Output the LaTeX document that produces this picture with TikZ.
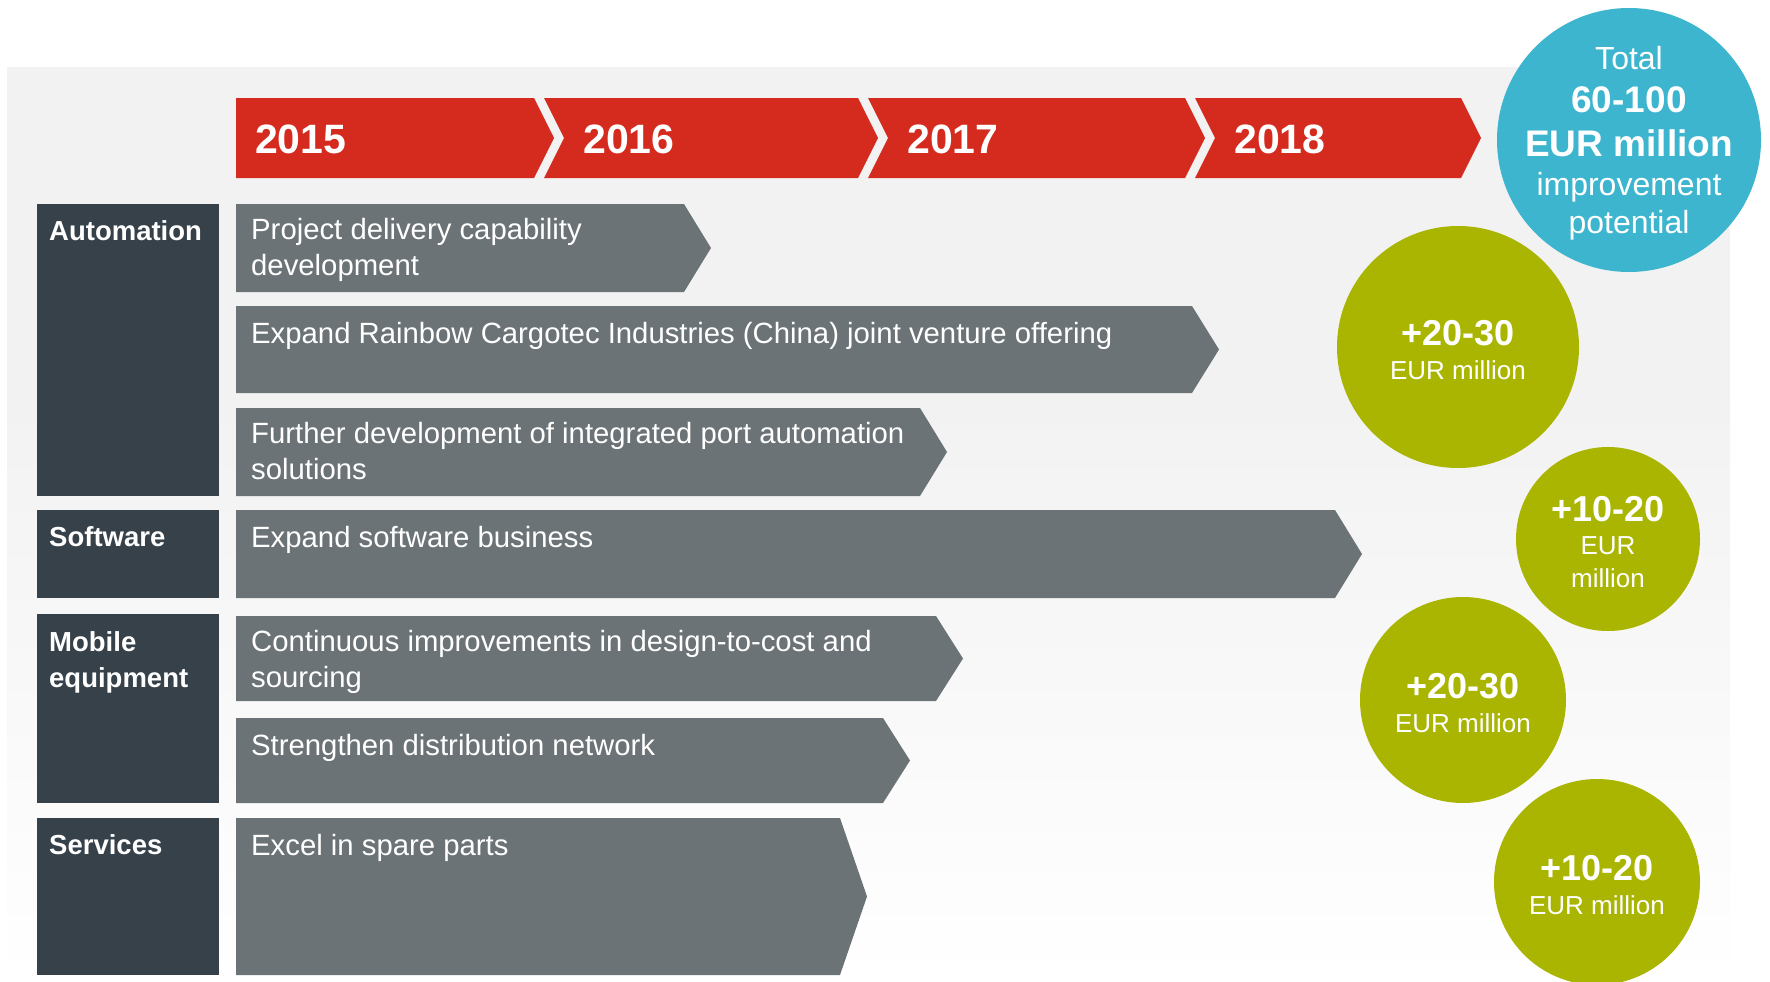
\documentclass[tikz,border=0pt]{standalone}
\usepackage{fontspec}
\setmainfont{Liberation Sans}
\usepackage{xcolor}
\usepackage{tikz}

\definecolor{yearred}{HTML}{D52B1E}
\definecolor{catdark}{HTML}{37414A}
\definecolor{bargray}{HTML}{6C7376}
\definecolor{totalblue}{HTML}{3DB5CE}
\definecolor{gainolive}{HTML}{A9B500}
\definecolor{bggray}{HTML}{F2F2F2}

\begin{document}
\begin{tikzpicture}[x=1pt, y=-1pt,
		yeartext/.style={anchor=base west, inner sep=0, text=white, font=\fontsize{41}{49}\selectfont\bfseries},
		cattext/.style={anchor=north west, inner sep=0, text=white, align=left, font=\fontsize{27.5}{36}\selectfont\bfseries,
			execute at begin node={\rule{0pt}{22pt}}},
		bartext/.style={anchor=north west, inner sep=0, text=white, align=left, font=\fontsize{29.3}{36}\selectfont,
			execute at begin node={\rule{0pt}{23pt}}},
		disc/.style={circle, inner sep=0, minimum size=#1},
		disctext/.style={inner sep=0, yshift=-3pt, text=white, align=center, font=\fontsize{26}{34}\selectfont}]
		\useasboundingbox (0,0) rectangle (1770,982);
		\fill[white] (0,0) rectangle (1770,982);
		\fill[bggray] (7,67) rectangle (1730,400);
		\shade[top color=bggray, bottom color=white] (7,400) rectangle (1730,982);

		% years
		\fill[yearred] (236,98) -- (534,98) -- (554,138) -- (534,178) -- (236,178) -- cycle;
		\node[yeartext] (year2015) at (255,153) {2015};
		\foreach \xl/\xr/\yr in {544/858/2016, 868/1185/2017, 1195/1461/2018} {
			\fill[yearred] (\xl,98) -- (\xr,98) -- (\xr+20,138) -- (\xr,178) -- (\xl,178) -- (\xl+20,138) -- cycle;
			\node[yeartext] (year\yr) at (\xl+39,153) {\yr};
		}

		% business areas
		\fill[catdark] (37,204) rectangle (219,496);
		\fill[catdark] (37,510) rectangle (219,598);
		\fill[catdark] (37,614) rectangle (219,803);
		\fill[catdark] (37,818) rectangle (219,975);
		\node[cattext] (automation) at (49,218.5) {Automation};
		\node[cattext] (software) at (49,524.5) {Software};
		\node[cattext] (mobile) at (49,631) {Mobile\\equipment};
		\node[cattext] (services) at (49,832.5) {Services};

		% initiatives
		\foreach \yt/\yb/\xr/\txt [count=\i] in {
				204/292/684/{Project delivery capability\\development},
				306/393/1192/{Expand Rainbow Cargotec Industries (China) joint venture offering},
				408/496/920/{Further development of integrated port automation\\solutions},
				510/598/1335/{Expand software business},
				616/701/936/{Continuous improvements in design-to-cost and\\sourcing},
				718/803/883/{Strengthen distribution network},
				818/975/840/{Excel in spare parts}} {
			\fill[bargray] (236,\yt) -- (\xr,\yt) -- (\xr+27,{(\yt+\yb)/2}) -- (\xr,\yb) -- (236,\yb) -- cycle;
			\node[bartext] (task\i) at (251,\yt+14.5) {\txt};
		}

		% potentials
		\node[disc=264, fill=totalblue] (total) at (1629,140) {};
		\node[disctext, font=\fontsize{32}{38}\selectfont] (totaltext) at (total) {Total\\[5pt]
			{\fontsize{37}{44}\selectfont\bfseries 60-100}\\[6pt]
			{\fontsize{37}{44}\selectfont\bfseries EUR million}\\[1pt]
			improvement\\potential};
		\node[disc=242, fill=gainolive] (gainauto) at (1458,347) {};
		\node[disctext] at (gainauto) {{\fontsize{36}{40}\selectfont\bfseries +20-30}\\EUR million};
		\node[disc=184, fill=gainolive] (gainsoft) at (1608,539) {};
		\node[disctext, font=\fontsize{26}{33}\selectfont] at (gainsoft) {{\fontsize{36}{40}\selectfont\bfseries +10-20}\\EUR\\million};
		\node[disc=206, fill=gainolive] (gainmobile) at (1463,700) {};
		\node[disctext] at (gainmobile) {{\fontsize{36}{40}\selectfont\bfseries +20-30}\\EUR million};
		\node[disc=206, fill=gainolive] (gainservice) at (1597,882) {};
		\node[disctext] at (gainservice) {{\fontsize{36}{40}\selectfont\bfseries +10-20}\\EUR million};
	\end{tikzpicture}
\end{document}
